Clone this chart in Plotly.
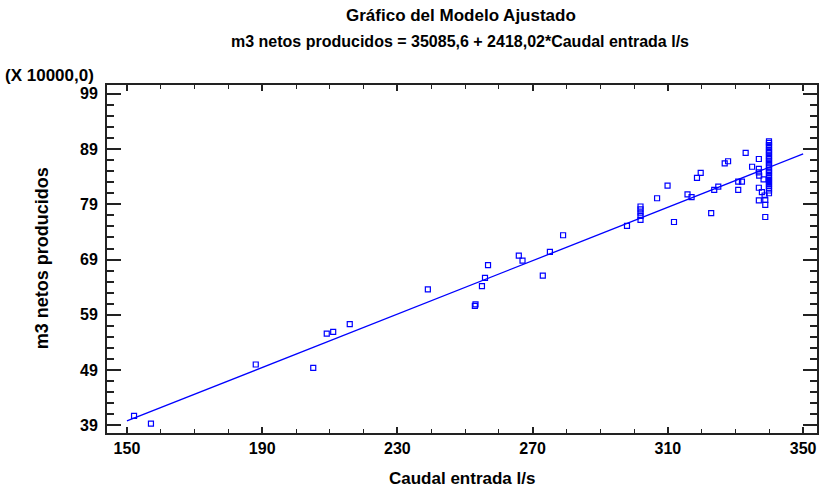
import plotly.graph_objects as go

# Observed data: inflow (l/s) vs net produced volume (in units of 10000 m3)
caudal = [
    152.1, 157.1, 188.1, 205.1, 209.1, 211.0, 215.9, 239.0, 252.9, 253.1,
    255.0, 255.9, 256.8, 265.9, 267.0, 273.0, 275.1, 279.0, 297.9,
    301.9, 301.9, 301.9, 301.9, 301.9,
    306.8, 309.9, 311.8, 315.8, 317.0, 318.6, 319.7, 322.8, 323.7, 324.9,
    326.8, 327.8, 330.8, 330.8, 331.9, 333.0, 334.9,
    336.9, 336.9, 336.9, 337.0, 336.9, 336.9,
    338.3, 337.8, 338.6, 338.8, 338.8, 338.8,
    339.9, 339.9, 339.9, 339.9, 339.9, 339.9, 339.9, 339.9, 339.9, 339.9,
    339.9, 339.9, 339.9, 339.9, 339.9, 339.9, 339.9, 339.9, 339.9, 339.9,
    339.9, 339.9, 339.9, 339.9, 339.9, 339.9,
]
m3_netos = [
    40.7, 39.3, 50.0, 49.4, 55.6, 55.9, 57.3, 63.6, 60.6, 60.9,
    64.2, 65.7, 68.0, 69.7, 68.8, 66.1, 70.4, 73.4, 75.1,
    78.6, 78.1, 77.5, 76.9, 76.2,
    80.1, 82.4, 75.8, 80.8, 80.3, 83.8, 84.7, 77.4, 81.6, 82.2,
    86.4, 86.8, 81.6, 83.1, 83.1, 88.3, 85.8,
    87.2, 85.4, 84.8, 84.2, 82.0, 79.7,
    83.5, 81.2, 80.6, 79.8, 78.9, 76.7,
    90.4, 90.1, 89.7, 89.4, 88.9, 88.6, 88.3, 87.8, 87.5, 87.2,
    86.8, 86.4, 86.1, 85.7, 85.2, 84.9, 84.6, 84.1, 83.8, 83.4,
    83.0, 82.7, 82.3, 81.9, 81.5, 81.0,
]

# Fitted model: m3 = 35085.6 + 2418.02 * caudal
intercepto = 35085.6
pendiente = 2418.02
x_ajuste = [150, 350]
escala = 10000.0
y_ajuste = [(intercepto + pendiente * x) / escala for x in x_ajuste]

x_ticks = [150, 190, 230, 270, 310, 350]
y_ticks = [39, 49, 59, 69, 79, 89, 99]

titulo = "Gráfico del Modelo Ajustado"
subtitulo = "m3 netos producidos = 35085,6 + 2418,02*Caudal entrada l/s"
etiqueta_x = "Caudal entrada l/s"
etiqueta_y = "m3 netos producidos"
factor = "(X 10000,0)"

azul = "#0000ff"
fuente = "Liberation Sans"
W, H = 823, 490
ML, MR, MT, MB = 107, 4, 85, 57


def px_x(p):
    # pixel column -> paper x
    return (p - ML) / (W - ML - MR)


def px_y(p):
    # pixel row -> paper y
    return 1 - (p - MT) / (H - MT - MB)


fig = go.Figure()
fig.add_trace(go.Scatter(
    x=x_ajuste, y=y_ajuste, mode="lines",
    line=dict(color=azul, width=1.3), showlegend=False, hoverinfo="skip",
))
fig.add_trace(go.Scatter(
    x=caudal, y=m3_netos, mode="markers",
    marker=dict(symbol="square-open", size=5, color=azul, line=dict(width=1.2, color=azul)),
    showlegend=False,
))

eje = dict(
    showgrid=False, zeroline=False, showline=True, linecolor="#222222", linewidth=2,
    mirror="allticks", ticks="inside", tickcolor="#222222",
    tickfont=dict(family=fuente, size=16, color="black", weight="bold"),
)

fig.update_xaxes(
    **eje, range=[144.1, 354.1], tickvals=x_ticks, ticklen=6, tickwidth=1.5,
    minor=dict(dtick=10, tick0=150, ticks="inside", ticklen=4, tickcolor="#222222", tickwidth=1.2),
)
fig.update_yaxes(
    **eje, range=[37.6, 100.6], tickvals=y_ticks, ticklen=14, tickwidth=2,
    ticklabelstandoff=4,
    minor=dict(dtick=2, tick0=39, ticks="inside", ticklen=7, tickcolor="#222222", tickwidth=2),
)

negrita = dict(family=fuente, color="black", weight="bold")
textos = [
    dict(text=titulo, x=px_x(462), y=px_y(15), xanchor="center", yanchor="middle",
         font=dict(size=17, **negrita)),
    dict(text=subtitulo, x=px_x(461), y=px_y(42), xanchor="center", yanchor="middle",
         font=dict(size=16, **negrita)),
    dict(text=factor, x=px_x(3), y=px_y(75), xanchor="left", yanchor="middle",
         font=dict(size=17, **negrita)),
    dict(text=etiqueta_x, x=px_x(463), y=px_y(478), xanchor="center", yanchor="middle",
         font=dict(size=17, **negrita)),
    dict(text=etiqueta_y, x=px_x(42), y=px_y(258), xanchor="center", yanchor="middle",
         textangle=-90, font=dict(size=18, **negrita)),
]
fig.update_layout(
    width=W, height=H,
    margin=dict(l=ML, r=MR, t=MT, b=MB),
    paper_bgcolor="white", plot_bgcolor="white",
    annotations=[dict(xref="paper", yref="paper", showarrow=False, **a) for a in textos],
)

fig.write_html("out.html")
